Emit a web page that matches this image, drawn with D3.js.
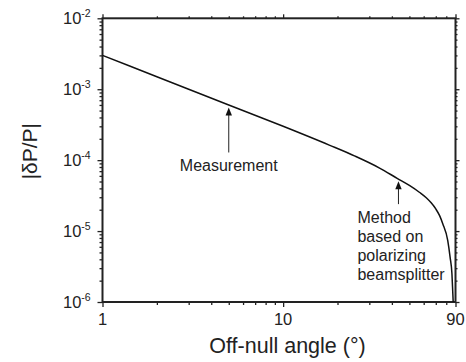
<!DOCTYPE html>
<html>
<head>
<meta charset="utf-8">
<script src="https://cdn.jsdelivr.net/npm/d3@7"></script>
<style>
  html, body { margin: 0; padding: 0; background: #fff; }
  svg { display: block; font-family: "Liberation Sans", Arial, Helvetica, sans-serif; }
  .axis path, .axis line { stroke: #222; }
</style>
</head>
<body>
<svg id="chart" width="466" height="362"></svg>
<script>
// Off-null angle (degrees) and relative power error |δP/P|
const angles = [1, 2, 3, 5, 10, 18, 25, 34, 43, 50, 57, 62, 66, 70, 73.5, 76.5, 81.5, 84, 86, 87, 87.4];
const errors = [3.0e-3, 1.5e-3, 1.0e-3, 6.0e-4, 3.0e-4, 1.63e-4, 1.14e-4, 7.8e-5, 5.5e-5, 4.4e-5, 3.5e-5, 2.95e-5, 2.5e-5, 2.05e-5, 1.65e-5, 1.27e-5, 7.4e-6, 4.3e-6, 2.5e-6, 1.3e-6, 1.0e-6];

// Axis ticks
const xMajor = [1, 10, 90];
const xMajorLabels = ["1", "10", "90"];
const xMinor = [2, 3, 4, 5, 6, 7, 8, 9, 20, 30, 40, 50, 60, 70, 80];
const yExponents = [-2, -3, -4, -5, -6];

// Annotations: arrow anchored on the curve, label lines below
const notes = [
  { angle: 5, value: 5.9e-4, lines: ["Measurement"], anchor: "middle" },
  { angle: 43.5, value: 5.4e-5, lines: ["Method", "based on", "polarizing", "beamsplitter"], anchor: "start" }
];

const svg = d3.select("#chart");
const pl = 102.5, pr = 455.5, pt = 18.3, pb = 302;

const x = d3.scaleLog().domain([1, 90]).range([pl, pr]);
const y = d3.scaleLog().domain([1e-6, 1e-2]).range([pb, pt]);

const yMinor = [];
for (let e = -6; e < -2; e++) for (let m = 2; m <= 9; m++) yMinor.push(m * Math.pow(10, e));
const yMajor = yExponents.map(e => Math.pow(10, e));

function drawAxis(gen, tr, vals, size) {
  svg.append("g").attr("class", "axis").attr("transform", tr)
    .call(gen.tickValues(vals).tickSize(size).tickFormat(""))
    .call(g => g.select(".domain").remove())
    .selectAll("line").attr("stroke-width", 1.3);
}
drawAxis(d3.axisBottom(x), `translate(0,${pb})`, xMajor, 5);
drawAxis(d3.axisBottom(x), `translate(0,${pb})`, xMinor, 3);
drawAxis(d3.axisTop(x), `translate(0,${pt})`, xMajor, 4);
drawAxis(d3.axisTop(x), `translate(0,${pt})`, xMinor, 2);
drawAxis(d3.axisLeft(y), `translate(${pl},0)`, yMajor, 5);
drawAxis(d3.axisLeft(y), `translate(${pl},0)`, yMinor, 3);
drawAxis(d3.axisRight(y), `translate(${pr},0)`, yMajor, 4);
drawAxis(d3.axisRight(y), `translate(${pr},0)`, yMinor, 2);

// Plot frame
svg.append("rect")
  .attr("x", pl).attr("y", pt)
  .attr("width", pr - pl).attr("height", pb - pt)
  .attr("fill", "none").attr("stroke", "#222").attr("stroke-width", 2);

// X tick labels
svg.append("g").selectAll("text").data(xMajor).join("text")
  .attr("x", d => x(d)).attr("y", pb + 23)
  .attr("text-anchor", "middle").attr("font-size", 16.5).attr("fill", "#222")
  .text((d, i) => xMajorLabels[i]);

// Y tick labels as powers of ten
const yl = svg.append("g").selectAll("text").data(yExponents).join("text")
  .attr("x", 63).attr("y", d => y(Math.pow(10, d)) + 6)
  .attr("text-anchor", "start").attr("font-size", 16.5).attr("fill", "#222");
yl.append("tspan").text("10");
yl.append("tspan").attr("font-size", 10.5).attr("dy", -7).text(d => String(d));

// Axis titles
svg.append("text")
  .attr("x", 287.5).attr("y", 353)
  .attr("text-anchor", "middle").attr("font-size", 21.5).attr("fill", "#222")
  .text("Off-null angle (°)");
svg.append("text")
  .attr("transform", `translate(37,${(pt + pb) / 2 - 9}) rotate(-90)`)
  .attr("text-anchor", "middle").attr("font-size", 21).attr("fill", "#222")
  .text("|δP/P|");

// Curve
svg.append("clipPath").attr("id", "plot-clip")
  .append("rect").attr("x", pl).attr("y", pt)
  .attr("width", pr - pl).attr("height", pb - pt);

const pts = angles.map((a, i) => [a, errors[i]]);
svg.append("path")
  .datum(pts)
  .attr("clip-path", "url(#plot-clip)")
  .attr("fill", "none").attr("stroke", "#111").attr("stroke-width", 1.5)
  .attr("d", d3.line().x(d => x(d[0])).y(d => y(d[1])).curve(d3.curveMonotoneX));

// Annotation arrows and labels
const ann = svg.append("g");
notes.forEach((n, k) => {
  const ax = x(n.angle), ay = y(n.value) + 2;
  const len = k === 0 ? 45 : 23;
  ann.append("line")
    .attr("x1", ax).attr("x2", ax).attr("y1", ay + 6).attr("y2", ay + len)
    .attr("stroke", "#222").attr("stroke-width", 1);
  ann.append("path")
    .attr("d", `M${ax},${ay} L${ax - 3.2},${ay + 8} L${ax + 3.2},${ay + 8} Z`)
    .attr("fill", "#111");
  const tx = n.anchor === "middle" ? ax : ax - 41;
  const t0 = ay + len + 19;
  n.lines.forEach((line, j) => {
    ann.append("text")
      .attr("x", tx).attr("y", t0 + j * 19)
      .attr("text-anchor", n.anchor).attr("font-size", 16).attr("fill", "#222")
      .text(line);
  });
});
</script>
</body>
</html>
